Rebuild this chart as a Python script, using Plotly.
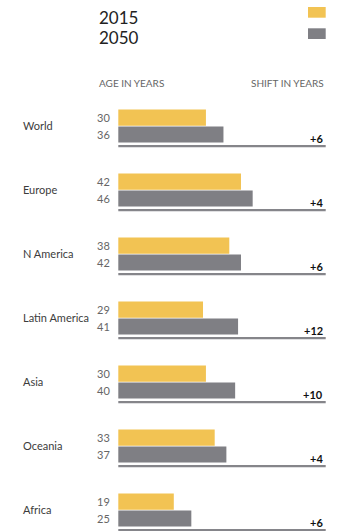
import plotly.graph_objects as go

regions = ["World", "Europe", "N America", "Latin America", "Asia", "Oceania", "Africa"]
age_2015 = [30, 42, 38, 29, 30, 33, 19]
age_2050 = [36, 46, 42, 41, 40, 37, 25]
shift = ["+6", "+4", "+6", "+12", "+10", "+4", "+6"]
years = ["2015", "2050"]
scale_max = 71

W, H = 349, 531
X0 = 118.3            # pixel of value 0
S = (325.7 - X0) / scale_max  # pixels per year
ROW0 = 109.5
STEP = 64

YEL = "#F2C353"
GRY = "#7F7F84"
FONT = "Lato"

def px(x):
    return x / W

def py(y):
    return 1 - y / H

yel_c = [ROW0 + 8.1 + STEP * i for i in range(len(regions))]
gry_c = [ROW0 + 25.0 + STEP * i for i in range(len(regions))]
line_c = [ROW0 + 36.6 + STEP * i for i in range(len(regions))]

fig = go.Figure()
fig.add_trace(go.Bar(x=[scale_max] * len(regions), y=line_c, width=2.4, orientation="h",
                     marker=dict(color="#85858a", line=dict(width=0)), hoverinfo="skip"))
fig.add_trace(go.Bar(x=age_2015, y=yel_c, width=16.2, orientation="h",
                     marker=dict(color=YEL, line=dict(width=0)), name=years[0]))
fig.add_trace(go.Bar(x=age_2050, y=gry_c, width=16.0, orientation="h",
                     marker=dict(color=GRY, line=dict(width=0)), name=years[1]))

ann = []
for i, r in enumerate(regions):
    ann.append(dict(x=px(21), y=py(ROW0 + 16 + STEP * i), xref="paper", yref="paper",
                    text=r, showarrow=False, xanchor="left", yanchor="middle",
                    font=dict(family=FONT, size=11, color="#3c3c3c")))
    ann.append(dict(x=px(111.5), y=py(yel_c[i]), xref="paper", yref="paper",
                    text=str(age_2015[i]), showarrow=False, xanchor="right", yanchor="middle",
                    font=dict(family=FONT, size=11, color="#666666")))
    ann.append(dict(x=px(111.5), y=py(gry_c[i]), xref="paper", yref="paper",
                    text=str(age_2050[i]), showarrow=False, xanchor="right", yanchor="middle",
                    font=dict(family=FONT, size=11, color="#666666")))
    ann.append(dict(x=px(325), y=py(ROW0 + 29 + STEP * i), xref="paper", yref="paper",
                    text="<b>" + shift[i] + "</b>", showarrow=False, xanchor="right", yanchor="middle",
                    font=dict(family=FONT, size=11, color="#111111")))

ann.append(dict(x=px(97), y=py(17), xref="paper", yref="paper", text=years[0], showarrow=False,
                xanchor="left", yanchor="middle", font=dict(family=FONT, size=17, color="#222222")))
ann.append(dict(x=px(97), y=py(38), xref="paper", yref="paper", text=years[1], showarrow=False,
                xanchor="left", yanchor="middle", font=dict(family=FONT, size=17, color="#222222")))
ann.append(dict(x=px(97), y=py(83), xref="paper", yref="paper", text="AGE IN YEARS", showarrow=False,
                xanchor="left", yanchor="middle", font=dict(family=FONT, size=10, color="#666666")))
ann.append(dict(x=px(326), y=py(83), xref="paper", yref="paper", text="SHIFT IN YEARS", showarrow=False,
                xanchor="right", yanchor="middle", font=dict(family=FONT, size=10, color="#666666")))

shapes = [
    dict(type="rect", xref="paper", yref="paper", x0=px(308), x1=px(325.7), y0=py(7), y1=py(17.7),
         fillcolor=YEL, line=dict(width=0)),
    dict(type="rect", xref="paper", yref="paper", x0=px(308), x1=px(325.7), y0=py(28.3), y1=py(39),
         fillcolor=GRY, line=dict(width=0)),
]

fig.update_layout(
    width=W, height=H, margin=dict(l=0, r=0, t=0, b=0),
    paper_bgcolor="white", plot_bgcolor="white", showlegend=False,
    barmode="overlay", annotations=ann, shapes=shapes,
    xaxis=dict(range=[-X0 / S, (W - X0) / S], domain=[0, 1], visible=False, fixedrange=True),
    yaxis=dict(range=[H, 0], domain=[0, 1], visible=False, fixedrange=True),
)
fig.write_html("out.html")
